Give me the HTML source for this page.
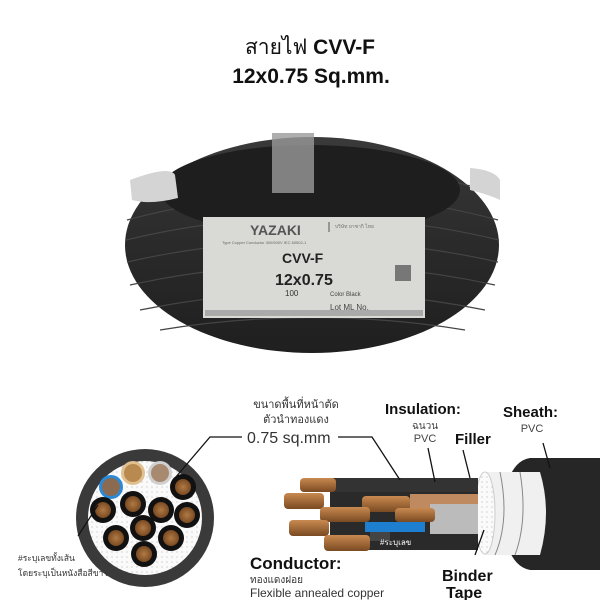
<!DOCTYPE html>
<html><head><meta charset="utf-8"><style>
html,body{margin:0;padding:0;background:#fff;}
svg{display:block;font-family:"Liberation Sans","Noto Sans CJK SC",sans-serif;}
</style></head><body>
<svg width="600" height="600" viewBox="0 0 600 600" xmlns="http://www.w3.org/2000/svg">
<defs>
<radialGradient id="cu" cx="50%" cy="50%" r="50%"><stop offset="0" stop-color="#b07a45"/><stop offset="1" stop-color="#7a4a22"/></radialGradient>
<linearGradient id="coil" x1="0" y1="0" x2="0" y2="1"><stop offset="0" stop-color="#3a3a3a"/><stop offset="0.5" stop-color="#2a2a2a"/><stop offset="1" stop-color="#1f1f1f"/></linearGradient>
<linearGradient id="cuL" x1="0" y1="0" x2="0" y2="1"><stop offset="0" stop-color="#c98a50"/><stop offset="1" stop-color="#7a4a22"/></linearGradient>
<pattern id="dots" width="5" height="5" patternUnits="userSpaceOnUse"><rect width="5" height="5" fill="#fafafa"/><circle cx="2" cy="2" r="0.6" fill="#bbb"/></pattern>
</defs>
<rect width="600" height="600" fill="#fff"/>
<text x="310" y="54" font-size="21" text-anchor="middle" fill="#111">สายไฟ <tspan font-weight="bold">CVV-F</tspan></text>
<text x="311" y="83" font-size="21" font-weight="bold" text-anchor="middle" fill="#111">12x0.75 Sq.mm.</text>
<!-- coil -->
<ellipse cx="312" cy="245" rx="187" ry="108" fill="url(#coil)"/>
<g stroke="#444" stroke-width="1.2" fill="none">
<path d="M127 220 Q312 170 498 220"/><path d="M126 240 Q312 195 499 240"/><path d="M127 262 Q312 220 498 262"/>
<path d="M130 285 Q312 245 495 285"/><path d="M140 310 Q312 275 485 310"/><path d="M160 330 Q312 305 465 330"/>
<path d="M140 190 Q312 140 485 190"/>
</g>
<ellipse cx="310" cy="190" rx="150" ry="45" fill="#1e1e1e"/>
<path d="M130 180 Q170 165 175 175 L178 198 Q150 205 132 200 Z" fill="#d4d4d4"/>
<rect x="272" y="133" width="42" height="60" fill="#9a9a9a" opacity="0.8"/>
<path d="M470 168 Q495 170 500 180 L500 200 Q490 195 470 190 Z" fill="#d4d4d4"/>
<rect x="203" y="217" width="222" height="101" fill="#d9d9d6"/>
<text x="250" y="235" font-size="14" font-weight="bold" fill="#555">YAZAKI</text>
<line x1="329" y1="222" x2="329" y2="232" stroke="#555"/>
<text x="335" y="228" font-size="5" fill="#777">บริษัท ยาซากิ ไทย</text>
<text x="222" y="244" font-size="4" fill="#666">Type Copper Conductor 300/500V IEC 60502-1</text>
<text x="282" y="263" font-size="14" font-weight="bold" fill="#222">CVV-F</text>
<text x="275" y="285" font-size="16" font-weight="bold" fill="#222">12x0.75</text>
<text x="285" y="296" font-size="8" fill="#333">100</text>
<text x="330" y="296" font-size="6" fill="#444">Color Black</text>
<text x="330" y="310" font-size="8" fill="#444">Lot ML      No.</text>
<rect x="395" y="265" width="16" height="16" fill="#777"/>
<rect x="205" y="310" width="218" height="6" fill="#aaa"/>
<!-- cross section -->
<circle cx="145" cy="518" r="69" fill="#3a3a3a"/>
<circle cx="145" cy="518" r="57" fill="url(#dots)"/>
<circle cx="111" cy="487" r="12" fill="#2a8ad8"/><circle cx="111" cy="487" r="9" fill="#8a6a50"/>
<circle cx="133" cy="473" r="12" fill="#e0c090"/><circle cx="133" cy="473" r="9" fill="#b88a50"/>
<circle cx="160" cy="473" r="12" fill="#d0d0d0"/><circle cx="160" cy="473" r="9" fill="#a88a70"/>
<g fill="#111">
<circle cx="183" cy="487" r="13"/><circle cx="103" cy="510" r="13"/><circle cx="133" cy="504" r="13"/>
<circle cx="161" cy="510" r="13"/><circle cx="187" cy="515" r="13"/><circle cx="143" cy="528" r="13"/>
<circle cx="116" cy="538" r="13"/><circle cx="171" cy="538" r="13"/><circle cx="144" cy="554" r="13"/>
</g>
<g fill="url(#cu)">
<circle cx="183" cy="487" r="8"/><circle cx="103" cy="510" r="8"/><circle cx="133" cy="504" r="8"/>
<circle cx="161" cy="510" r="8"/><circle cx="187" cy="515" r="8"/><circle cx="143" cy="528" r="8"/>
<circle cx="116" cy="538" r="8"/><circle cx="171" cy="538" r="8"/><circle cx="144" cy="554" r="8"/>
</g>
<polyline points="175,478 210,437 242,437" fill="none" stroke="#111" stroke-width="1.3"/>
<line x1="78" y1="536" x2="98" y2="505" stroke="#111" stroke-width="1.2"/>
<text x="18" y="561" font-size="8.5" fill="#333">#ระบุเลขทั้งเส้น</text>
<text x="18" y="576" font-size="8.5" fill="#333">โดยระบุเป็นหนังสือสีขาว</text>
<!-- cable -->
<path d="M530 458 L600 458 L600 570 L530 570 Q505 565 503 515 Q505 462 530 458 Z" fill="#262626"/>
<path d="M485 472 L540 472 Q552 512 540 555 L485 555 Z" fill="#f0f0f0"/>
<path d="M500 472 Q510 520 495 555 M520 472 Q528 520 515 555" stroke="#888" fill="none" stroke-width="1"/>
<ellipse cx="485" cy="513" rx="10" ry="41" fill="url(#dots)" stroke="#ccc"/>
<rect x="330" y="478" width="148" height="72" fill="#2a2a2a"/>
<rect x="330" y="478" width="148" height="14" fill="#333"/>
<rect x="410" y="494" width="68" height="22" fill="#c08a60"/>
<rect x="430" y="504" width="48" height="30" fill="#bbb"/>
<rect x="370" y="529" width="20" height="12" fill="#444"/>
<text x="380" y="545" font-size="8" fill="#fff">#ระบุเลข</text>
<rect x="365" y="522" width="60" height="10" fill="#1e7fd0"/>
<g fill="url(#cuL)">
<rect x="300" y="478" width="36" height="14" rx="4"/>
<rect x="284" y="493" width="40" height="16" rx="4"/>
<rect x="362" y="496" width="48" height="16" rx="4"/>
<rect x="320" y="507" width="50" height="15" rx="4"/>
<rect x="395" y="508" width="40" height="14" rx="4"/>
<rect x="289" y="520" width="40" height="16" rx="4"/>
<rect x="324" y="535" width="46" height="16" rx="4"/>
</g>
<g stroke="#111" stroke-width="1.3" fill="none">
<polyline points="338,437 372,437 400,480"/>
<line x1="428" y1="448" x2="435" y2="482"/>
<line x1="463" y1="450" x2="470" y2="478"/>
<line x1="543" y1="443" x2="550" y2="468"/>
<line x1="484" y1="530" x2="475" y2="555"/>
</g>
<text x="296" y="408" font-size="11" text-anchor="middle" fill="#333">ขนาดพื้นที่หน้าตัด</text>
<text x="296" y="423" font-size="11" text-anchor="middle" fill="#333">ตัวนำทองแดง</text>
<text x="247" y="443" font-size="16" fill="#333">0.75 sq.mm</text>
<text x="385" y="414" font-size="15" font-weight="bold" fill="#111">Insulation:</text>
<text x="425" y="429" font-size="10" text-anchor="middle" fill="#444">ฉนวน</text>
<text x="425" y="442" font-size="11" text-anchor="middle" fill="#444">PVC</text>
<text x="455" y="444" font-size="15" font-weight="bold" fill="#111">Filler</text>
<text x="503" y="417" font-size="15" font-weight="bold" fill="#111">Sheath:</text>
<text x="532" y="432" font-size="11" text-anchor="middle" fill="#444">PVC</text>
<text x="250" y="569" font-size="17" font-weight="bold" fill="#111">Conductor:</text>
<text x="250" y="583" font-size="10" fill="#333">ทองแดงฝอย</text>
<text x="250" y="597" font-size="12" fill="#333">Flexible annealed copper</text>
<text x="442" y="581" font-size="16" font-weight="bold" fill="#111">Binder</text>
<text x="446" y="598" font-size="16" font-weight="bold" fill="#111">Tape</text>
</svg>
</body></html>
